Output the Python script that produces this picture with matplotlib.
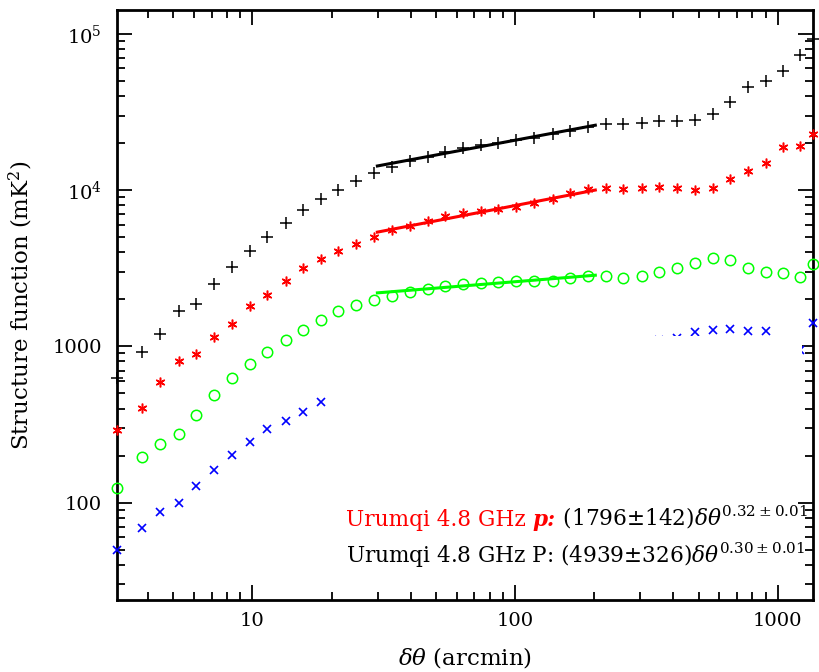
import math
import matplotlib
matplotlib.use('Agg')
import matplotlib.pyplot as plt
from matplotlib.ticker import LogLocator, FuncFormatter, NullFormatter
from matplotlib.offsetbox import TextArea, HPacker, VPacker, AnchoredOffsetbox
from matplotlib.patches import Rectangle

plt.rcParams['font.family'] = ['DejaVu Serif']
plt.rcParams['mathtext.fontset'] = 'dejavuserif'

# ---- data ----
theta = [3.05, 3.79, 4.46, 5.23, 6.12, 7.15, 8.37, 9.77, 11.4, 13.4, 15.6, 18.2,
         21.2, 24.8, 29.1, 34.0, 39.8, 46.5, 54.3, 63.4, 74.0, 86.4, 101, 118,
         139, 162, 189, 221, 258, 303, 354, 415, 484, 566, 658, 773, 900, 1050,
         1216, 1362]

sf_P = [631, 916, 1205, 1675, 1879, 2512, 3228, 4064, 5025, 6180, 7487, 8750,
        10060, 11370, 12860, 14040, 15340, 16370, 17530, 18500, 19350, 20080,
        20770, 21660, 22760, 23900, 25340, 26370, 26370, 26800, 27700, 27700,
        27990, 30580, 36650, 45510, 49970, 57430, 72940, 92500]

sf_p = [292, 401, 588, 802, 898, 1148, 1396, 1821, 2141, 2634, 3162, 3612,
        4064, 4529, 5025, 5516, 5878, 6330, 6784, 7120, 7380, 7520, 7740, 8220,
        8720, 9520, 10100, 10260, 10100, 10260, 10450, 10260, 10000, 10360,
        11720, 13250, 14830, 18870, 19150, 22760]

sf_green = [124, 197, 238, 275, 366, 488, 624, 767, 925, 1092, 1280, 1483,
            1675, 1849, 1972, 2113, 2232, 2344, 2425, 2512, 2540, 2570, 2620,
            2612, 2634, 2717, 2812, 2812, 2743, 2812, 2979, 3162, 3425, 3650,
            3557, 3148, 3000, 2954, 2786, 3344]

theta_blue = [3.05, 3.79, 4.46, 5.23, 6.12, 7.15, 8.37, 9.77, 11.4, 13.4, 15.6,
              18.2, 354, 415, 484, 566, 658, 773, 900, 1216, 1362]
sf_blue = [49.8, 68.5, 86.8, 99, 128, 162, 202, 243, 295, 335, 380, 437,
           1104, 1130, 1236, 1279, 1297, 1262, 1262, 953, 1400]

fit_x = [29.9, 202]
fit_P = [14260, 26000]
fit_p = [5380, 10000]
fit_green = [2198, 2851]

line_p = ["Urumqi 4.8 GHz ", "p:", " (1796\u00b1142)$\\delta\\theta^{0.32\\pm0.01}$"]
line_P = ["Urumqi 4.8 GHz P: (4939\u00b1326)$\\delta\\theta^{0.30\\pm0.01}$"]

# ---- figure ----
fig = plt.figure(figsize=(8.19, 6.72), dpi=100)
ax = fig.add_axes([117/819, 72/672, 696/819, 590/672])
ax.set_xscale('log')
ax.set_yscale('log')
ax.set_xlim(3.05, 1362)
ax.set_ylim(23.8, 1.42e5)

GREEN = (0, 1, 0)
ax.plot(theta, sf_P, ls='none', marker='+', ms=8.5, mew=1.1, color='black', clip_on=False, zorder=3)
ax.plot(theta, sf_p, ls='none', marker=(6, 2, 0), ms=7, mew=1.1, color='red', clip_on=False, zorder=3)
ax.plot(theta, sf_green, ls='none', marker='o', ms=7.5, mew=1.1, mfc='none', color=GREEN, clip_on=False, zorder=3)
ax.plot(theta_blue, sf_blue, ls='none', marker='x', ms=6, mew=1.2, color='blue', clip_on=False, zorder=3)

ax.plot(fit_x, fit_P, color='black', lw=2.2, zorder=4)
ax.plot(fit_x, fit_p, color='red', lw=2.2, zorder=4)
ax.plot(fit_x, fit_green, color=GREEN, lw=2.2, zorder=4)

# white panel behind the annotation
ax.add_patch(Rectangle((0.306, 0.175), 0.678, 0.272, transform=ax.transAxes,
                       facecolor='white', edgecolor='none', zorder=5))

# ticks
for axis in (ax.xaxis, ax.yaxis):
    axis.set_major_locator(LogLocator(base=10, numticks=20))
    axis.set_minor_locator(LogLocator(base=10, subs=range(2, 10), numticks=20))
    axis.set_minor_formatter(NullFormatter())

def yfmt(v, pos):
    if v >= 1e4:
        return r'$10^{%d}$' % round(math.log10(v))
    return '%d' % v

def xfmt(v, pos):
    return '%d' % v

ax.yaxis.set_major_formatter(FuncFormatter(yfmt))
ax.xaxis.set_major_formatter(FuncFormatter(xfmt))
ax.tick_params(which='both', direction='in', top=True, right=True, labelsize=14)
ax.tick_params(which='major', length=11, width=1.3)
ax.tick_params(which='minor', length=6, width=1.3)
ax.tick_params(axis='x', pad=9)
ax.tick_params(axis='y', pad=11)
for s in ax.spines.values():
    s.set_linewidth(2)

ax.set_ylabel('Structure function (mK$^2$)', fontsize=16.5)
ax.set_xlabel(r'$\delta\theta$ (arcmin)', fontsize=16.5)
ax.yaxis.set_label_coords(-0.118, 0.5)
ax.xaxis.set_label_coords(0.5, -0.076)

fs = 15.6
row1 = HPacker(children=[
    TextArea(line_p[0], textprops=dict(color='red', size=fs)),
    TextArea(line_p[1], textprops=dict(color='red', size=fs, style='italic', weight='bold')),
    TextArea(line_p[2], textprops=dict(color='black', size=fs)),
], sep=0, pad=0, align='baseline')
row2 = HPacker(children=[TextArea(line_P[0], textprops=dict(color='black', size=fs))],
               sep=0, pad=0, align='baseline')
box = VPacker(children=[row1, row2], sep=7, pad=0, align='left')
anch = AnchoredOffsetbox(loc='upper left', child=box, pad=0, borderpad=0, frameon=False,
                         bbox_to_anchor=(0.329, 0.163), bbox_transform=ax.transAxes)
anch.set_zorder(6)
ax.add_artist(anch)

fig.savefig('out.png', dpi=100)
